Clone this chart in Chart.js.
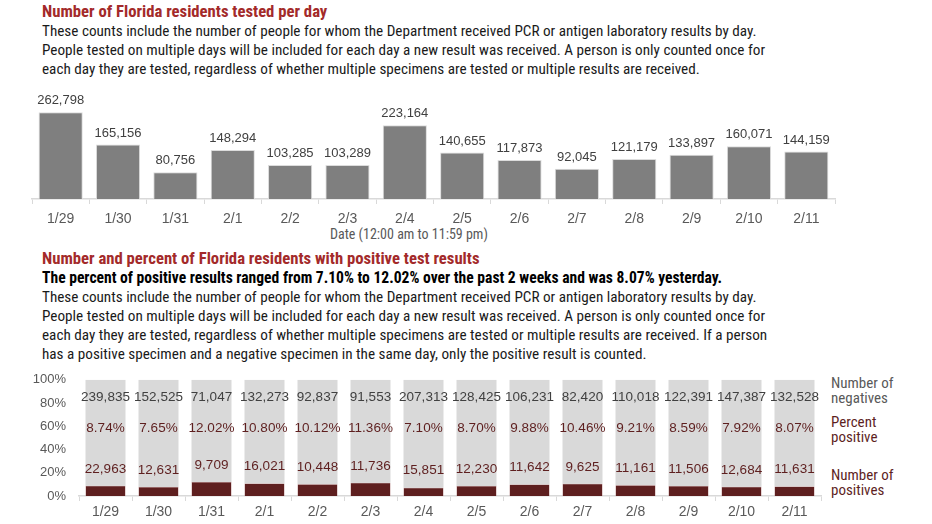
<!DOCTYPE html>
<html>
<head>
<meta charset="utf-8">
<script src="https://cdn.jsdelivr.net/npm/chart.js@4.4.1/dist/chart.umd.min.js"></script>
<style>
  html, body { margin:0; padding:0; background:#fff; }
  body { width:932px; height:524px; position:relative; overflow:hidden;
         font-family:"Liberation Sans Narrow","Arial Narrow","Roboto Condensed","Liberation Sans",sans-serif; }
  .t { position:absolute; white-space:nowrap; }
  .title { color:#a32a2a; font-size:16.7px; font-weight:bold; line-height:18px; left:42px; }
  .para { color:#1a1a1a; font-size:15.2px; line-height:19px; left:42px; }
  .bold { color:#000; font-size:15.6px; font-weight:bold; line-height:19px; left:42px; }
  .leg { font-size:15px; line-height:15px; left:831px; }
  canvas { position:absolute; }
</style>
</head>
<body>
<div class="t title" style="top:3px;">Number of Florida residents tested per day</div>
<div class="t para" style="top:21.5px;">These counts include the number of people for whom the Department received PCR or antigen laboratory results by day.<br>People tested on multiple days will be included for each day a new result was received. A person is only counted once for<br>each day they are tested, regardless of whether multiple specimens are tested or multiple results are received.</div>

<div class="t" style="left:330px; top:226px; font-size:14px; color:#595959; line-height:16px;">Date (12:00 am to 11:59 pm)</div>

<div class="t title" style="top:250px;">Number and percent of Florida residents with positive test results</div>
<div class="t bold" style="top:268.5px;">The percent of positive results ranged from 7.10% to 12.02% over the past 2 weeks and was 8.07% yesterday.</div>
<div class="t para" style="top:287.5px;">These counts include the number of people for whom the Department received PCR or antigen laboratory results by day.<br>People tested on multiple days will be included for each day a new result was received. A person is only counted once for<br>each day they are tested, regardless of whether multiple specimens are tested or multiple results are received. If a person<br>has a positive specimen and a negative specimen in the same day, only the positive result is counted.</div>

<div class="t leg" style="top:376px; color:#595959;">Number of<br>negatives</div>
<div class="t leg" style="top:415px; color:#5e1f1f;">Percent<br>positive</div>
<div class="t leg" style="top:468px; color:#5e1f1f;">Number of<br>positives</div>

<canvas id="c1"></canvas>
<canvas id="c2"></canvas>

<script>
const dates = ["1/29","1/30","1/31","2/1","2/2","2/3","2/4","2/5","2/6","2/7","2/8","2/9","2/10","2/11"];
const tested = [262798,165156,80756,148294,103285,103289,223164,140655,117873,92045,121179,133897,160071,144159];
const negatives = [239835,152525,71047,132273,92837,91553,207313,128425,106231,82420,110018,122391,147387,132528];
const positives = [22963,12631,9709,16021,10448,11736,15851,12230,11642,9625,11161,11506,12684,11631];
const percentPositive = [8.74,7.65,12.02,10.80,10.12,11.36,7.10,8.70,9.88,10.46,9.21,8.59,7.92,8.07];
const pctTicks = [0,20,40,60,80,100];

const numFont = '"Liberation Sans", Arial, sans-serif';
const fmt = v => v.toLocaleString('en-US');

function setupCanvas(id, left, top, w, h) {
  const c = document.getElementById(id);
  c.style.left = left + 'px'; c.style.top = top + 'px';
  c.style.width = w + 'px'; c.style.height = h + 'px';
  c.width = w; c.height = h;
  return c;
}

// ---- Top chart ----
const c1 = setupCanvas('c1', 0, 85, 932, 150);
const topLabels = {
  id: 'topLabels',
  afterDatasetsDraw(chart) {
    const ctx = chart.ctx;
    const meta = chart.getDatasetMeta(0);
    ctx.save();
    ctx.font = '13px ' + numFont;
    ctx.fillStyle = '#404040';
    ctx.textAlign = 'center';
    ctx.textBaseline = 'bottom';
    meta.data.forEach((bar, i) => {
      ctx.fillText(fmt(tested[i]), bar.x, bar.y - 5);
    });
    ctx.restore();
  }
};
new Chart(c1, {
  type: 'bar',
  data: { labels: dates, datasets: [{ data: tested, backgroundColor: '#7f7f7f', borderColor: '#dcdcdc', borderWidth: 1,
    categoryPercentage: 1, barPercentage: 0.77 }] },
  options: {
    responsive: false, animation: false,
    layout: { padding: { left: 32, right: 97, top: 15, bottom: 0 } },
    plugins: { legend: { display: false }, tooltip: { enabled: false } },
    scales: {
      x: {
        grid: { display: true, drawOnChartArea: false, drawTicks: true, tickLength: 5, offset: true, color: '#d9d9d9' },
        border: { display: true, color: '#d9d9d9', width: 1.5 },
        ticks: { color: '#595959', font: { size: 14, family: numFont }, padding: 7, maxRotation: 0 },
        afterFit(s) { s.height = 36; }
      },
      y: { display: false, min: 0, max: 300000 }
    }
  },
  plugins: [topLabels]
});

// ---- Bottom chart ----
const c2 = setupCanvas('c2', 0, 359, 932, 165);
const posShare = percentPositive.slice();
const negShare = percentPositive.map(p => 100 - p);
const botLabels = {
  id: 'botLabels',
  afterDatasetsDraw(chart) {
    const ctx = chart.ctx;
    const y = chart.scales.y;
    const posMeta = chart.getDatasetMeta(0);
    ctx.save();
    ctx.font = '13.5px ' + numFont;
    ctx.textAlign = 'center';
    ctx.textBaseline = 'middle';
    posMeta.data.forEach((bar, i) => {
      ctx.fillStyle = '#404040';
      ctx.fillText(fmt(negatives[i]), bar.x, y.getPixelForValue(84.7));
      ctx.fillStyle = '#5e1f1f';
      ctx.fillText(percentPositive[i].toFixed(2) + '%', bar.x, y.getPixelForValue(58.5));
      ctx.fillText(fmt(positives[i]), bar.x, bar.y - 17);
    });
    ctx.restore();
  }
};
new Chart(c2, {
  type: 'bar',
  data: { labels: dates, datasets: [
    { data: posShare, backgroundColor: '#5e1f1f', borderColor: '#a06060', borderWidth: 0.5, categoryPercentage: 1, barPercentage: 0.755, stack: 's' },
    { data: negShare, backgroundColor: '#d9d9d9', borderWidth: 0, categoryPercentage: 1, barPercentage: 0.755, stack: 's' }
  ] },
  options: {
    responsive: false, animation: false,
    layout: { padding: { left: 0, right: 111, top: 5, bottom: 0 } },
    plugins: { legend: { display: false }, tooltip: { enabled: false } },
    scales: {
      x: {
        stacked: true,
        grid: { display: true, drawOnChartArea: false, drawTicks: true, tickLength: 5, offset: true, color: '#d9d9d9' },
        border: { display: true, color: '#d9d9d9', width: 1.5 },
        ticks: { color: '#595959', font: { size: 14, family: numFont }, padding: 3, maxRotation: 0 },
        afterFit(s) { s.height = 28; }
      },
      y: {
        stacked: true, min: 0, max: 100,
        afterBuildTicks(s) { s.ticks = pctTicks.map(v => ({ value: v })); },
        grid: { display: false, drawTicks: false },
        border: { display: false },
        ticks: { color: '#595959', font: { size: 13, family: numFont }, padding: 13, callback: v => v + '%' },
        afterFit(s) { s.width = 79; }
      }
    }
  },
  plugins: [botLabels]
});
</script>
</body>
</html>
